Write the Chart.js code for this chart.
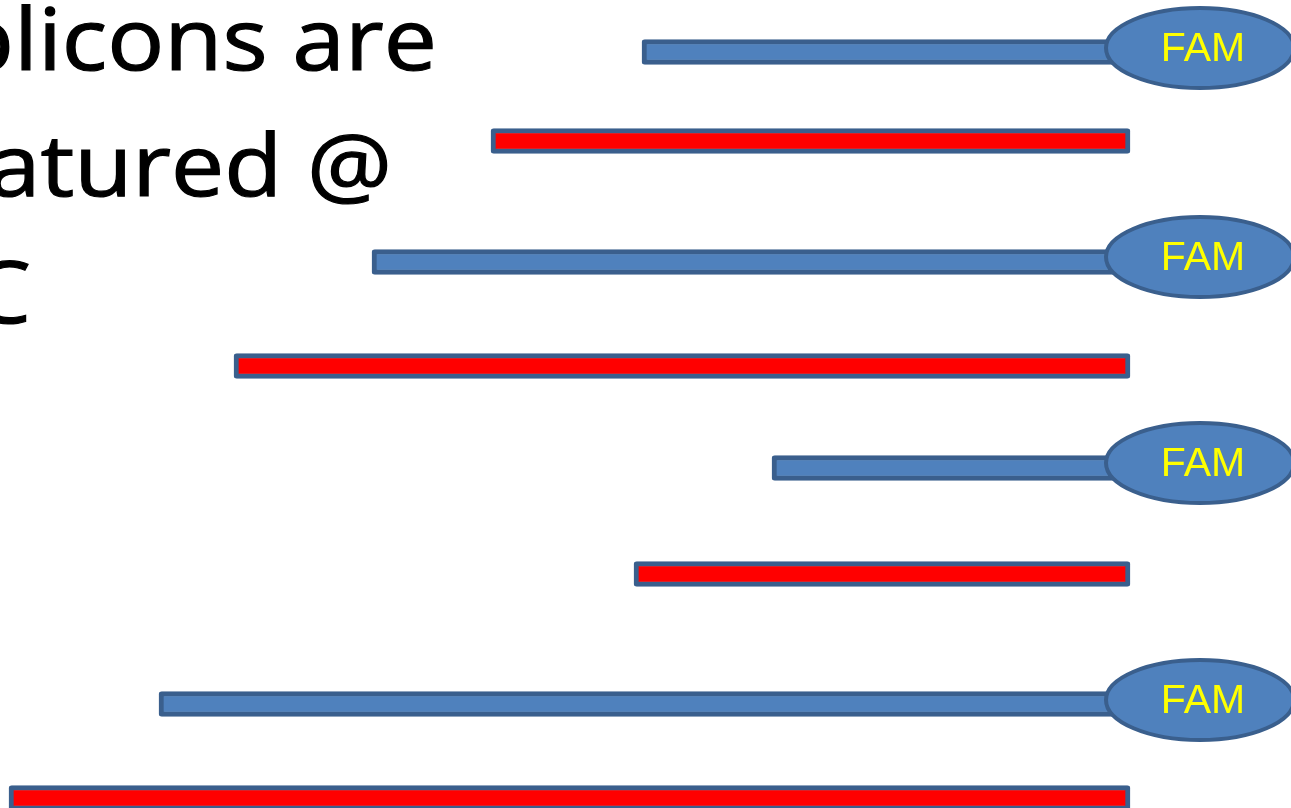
<!DOCTYPE html>
<html>
<head>
<meta charset="utf-8">
<script src="https://cdn.jsdelivr.net/npm/chart.js@4"></script>
<style>
  html, body { margin: 0; padding: 0; background: #fff; overflow: hidden; }
  #wrap { width: 1291px; height: 808px; position: relative; }
</style>
</head>
<body>
<div id="wrap"><canvas id="myChart"></canvas></div>
<script>
// probe strands (blue, carry the FAM dye)
const probeRows = [52, 262, 468, 704];
const probeStart = [642, 372, 772, 159];
const probeEnd = [1118, 1118, 1118, 1118];

// complementary strands (red)
const strandRows = [141, 366, 574, 798];
const strandStart = [491, 234, 634, 9];
const strandEnd = [1130, 1130, 1130, 1130];

// dye labels
const dyeLabels = ['FAM', 'FAM', 'FAM', 'FAM'];
const dyeX = [1200, 1200, 1200, 1200];
const dyeY = [48, 257, 463, 700];

// slide text (left edge is cut off in the picture)
const slideLines = ['plicons are', 'atured @', 'C'];

const blue = '#4f81bd';
const darkBlue = '#3a5f8d';

// ellipse used as point style for the dye
const makeEllipse = () => {
  const c = document.createElement('canvas');
  c.width = 196;
  c.height = 88;
  const g = c.getContext('2d');
  g.beginPath();
  g.ellipse(98, 44, 94, 40, 0, 0, Math.PI * 2);
  g.fillStyle = blue;
  g.fill();
  g.lineWidth = 4;
  g.strokeStyle = darkBlue;
  g.stroke();
  return c;
};

const slideText = {
  id: 'slideText',
  afterDraw(chart) {
    const ctx = chart.ctx;
    ctx.save();
    ctx.fillStyle = '#000';
    ctx.strokeStyle = '#000';
    ctx.lineWidth = 1.2;
    ctx.textBaseline = 'alphabetic';
    ctx.font = '86px "Open Sans"';
    const sx = 423 / ctx.measureText(slideLines[0].slice(1)).width;
    const wp = ctx.measureText('p').width;
    const draw = (txt, left, base) => {
      ctx.save();
      ctx.translate(left, base);
      ctx.scale(sx, 1);
      ctx.fillText(txt, 0, 0);
      ctx.strokeText(txt, 0, 0);
      ctx.restore();
    };
    draw(slideLines[0], 14 - wp * sx, 70);
    draw(slideLines[1], 392 - ctx.measureText(slideLines[1]).width * sx, 196);
    draw(slideLines[2], 31 - ctx.measureText(slideLines[2]).width * sx, 323);
    ctx.restore();
  }
};

const dyeText = {
  id: 'dyeText',
  afterDatasetsDraw(chart) {
    const ctx = chart.ctx;
    const meta = chart.getDatasetMeta(2);
    ctx.save();
    ctx.fillStyle = '#ffff00';
    ctx.font = '41px "Liberation Sans"';
    ctx.textAlign = 'center';
    ctx.textBaseline = 'middle';
    meta.data.forEach((pt, i) => {
      ctx.fillText(dyeLabels[i], pt.x + 3, pt.y + 2);
    });
    ctx.restore();
  }
};

const ctx = document.getElementById('myChart');
const myChart = new Chart(ctx, {
  type: 'bar',
  data: {
    datasets: [{
      label: 'probe',
      order: 2,
      data: probeRows.map((y, i) => ({ y: y, x: [probeStart[i], probeEnd[i]] })),
      backgroundColor: blue,
      borderColor: darkBlue,
      borderWidth: 5,
      borderSkipped: false,
      borderRadius: 3,
      barThickness: 25,
      grouped: false,
      clip: false
    }, {
      label: 'strand',
      order: 1,
      data: strandRows.map((y, i) => ({ y: y, x: [strandStart[i], strandEnd[i]] })),
      backgroundColor: '#ff0000',
      borderColor: darkBlue,
      borderWidth: 5,
      borderSkipped: false,
      borderRadius: 3,
      barThickness: 25,
      grouped: false,
      clip: false
    }, {
      type: 'scatter',
      label: 'dye',
      order: 0,
      data: dyeY.map((y, i) => ({ x: dyeX[i], y: y })),
      pointStyle: makeEllipse(),
      pointRadius: 40,
      clip: false
    }]
  },
  options: {
    indexAxis: 'y',
    responsive: true,
    maintainAspectRatio: false,
    animation: false,
    layout: { padding: 0, autoPadding: false },
    plugins: {
      legend: { display: false },
      tooltip: { enabled: false }
    },
    scales: {
      x: { type: 'linear', min: 0, max: 1291, offset: false, display: false },
      y: { type: 'linear', min: 0, max: 808, reverse: true, offset: false, display: false }
    }
  },
  plugins: [dyeText, slideText]
});
</script>
</body>
</html>
